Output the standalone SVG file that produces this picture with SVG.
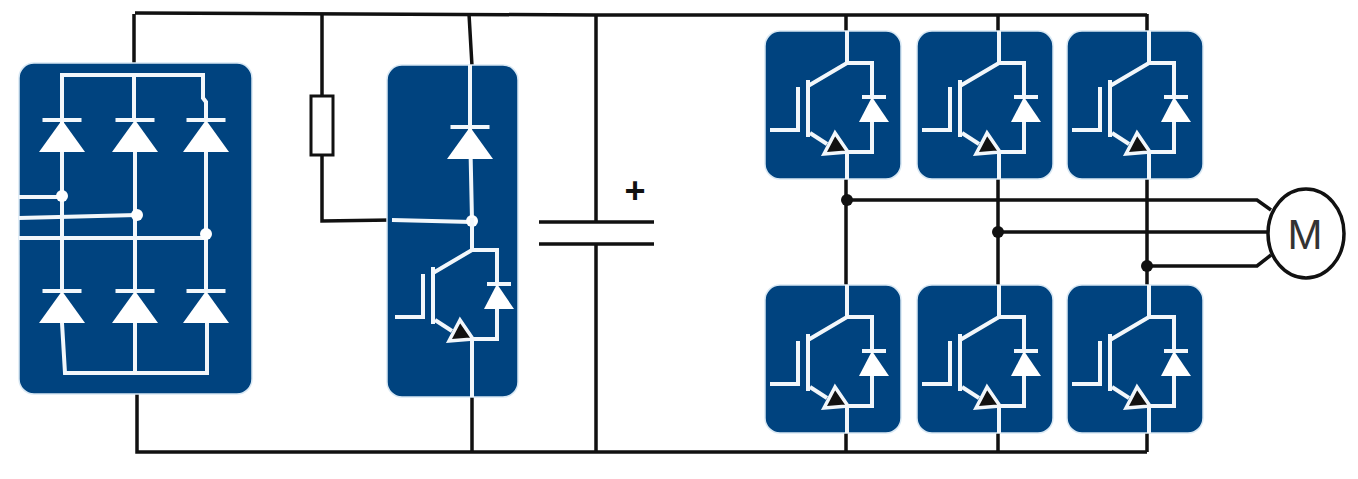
<svg xmlns="http://www.w3.org/2000/svg" xmlns:xlink="http://www.w3.org/1999/xlink" width="1358" height="479" viewBox="0 0 1358 479">
<style>
.mod{fill:#00437f;stroke:#d8e8f4;stroke-width:1.5}
.w{fill:none;stroke:#f2f7fb;stroke-width:4}
.wf{fill:#fff}
.k{fill:none;stroke:#111;stroke-width:3.5}
.kf{fill:#111}
.thin{fill:none;stroke:#111;stroke-width:3.5}
</style>
<defs>
<g id="diode">
<path class="w" d="M-19.500 0H19.500"/>
<path class="wf" d="M0 0L23 32H-23Z"/>
</g>
<g id="igbt">
<path class="w" d="M5 99H33V56"/>
<path class="w" d="M43 49V106"/>
<path class="w" d="M43 55L82 32H107V65"/>
<path class="w" d="M82 0V32"/>
<path class="w" d="M107 91V121H82V148"/>
<path class="w" d="M45 102L62 113"/>
<path class="w" d="M97 66H121"/>
<path class="wf" d="M107 66L124 91H94Z"/>
<path d="M70 102L59 123L83 121Z" fill="#111" stroke="#f2f7fb" stroke-width="3.500"/>
</g>
<g id="sw"><rect class="mod" x="0" y="0" width="136" height="148" rx="15"/><use href="#igbt" xlink:href="#igbt"/></g>
</defs>
<rect width="1358" height="479" fill="#fff"/>
<g id="connectors">
<path class="k" d="M135 13L596 15L1147 15"/>
<path class="k" d="M137 372V452H1147"/>
<path class="k" d="M134 14V76"/>
<path class="k" d="M322 14V96M322 155V221L392 220"/>
<path class="k" d="M469 14L472 66M472 396V452"/>
<path class="k" d="M596 14V222M596 244V452"/>
<path class="k" d="M539 222H654M539 244H654"/>
<path class="k" d="M846 14V32M846 178V286M846 432V452"/>
<path class="k" d="M998 14V32M998 178V286M998 432V452"/>
<path class="k" d="M1147 14V32M1147 178V286M1147 432V452"/>
<path class="thin" d="M847 200H1257L1271 210"/>
<path class="thin" d="M998 232H1267"/>
<path class="thin" d="M1147 266H1257L1271 255"/>
<circle class="kf" cx="847" cy="200" r="6"/>
<circle class="kf" cx="998" cy="232" r="6"/>
<circle class="kf" cx="1147" cy="266" r="6"/>
</g>
<g id="rectifier">
<rect class="mod" x="19" y="63" width="233" height="331" rx="15"/>
<path class="w" d="M62 152V75H203V98L206 102V120"/>
<path class="w" d="M134 75V120"/>
<path class="w" d="M62 152V291M135 152V291M206 152V291"/>
<path class="w" d="M62 323L65 373H207V323M135 323V373"/>
<path class="w" d="M19 197H62M19 218L137 215M19 238H206"/>
<circle class="wf" cx="62" cy="196" r="6"/>
<circle class="wf" cx="137" cy="215" r="6"/>
<circle class="wf" cx="206" cy="234" r="6"/>
<use href="#diode" xlink:href="#diode" x="62" y="120"/>
<use href="#diode" xlink:href="#diode" x="135" y="120"/>
<use href="#diode" xlink:href="#diode" x="206" y="120"/>
<use href="#diode" xlink:href="#diode" x="62" y="291"/>
<use href="#diode" xlink:href="#diode" x="135" y="291"/>
<use href="#diode" xlink:href="#diode" x="206" y="291"/>
</g>
<g id="resistor"><rect x="311" y="96" width="22" height="59" fill="#fff" stroke="#111" stroke-width="3"/></g>
<g id="brake">
<rect class="mod" x="387" y="65" width="131" height="332" rx="15"/>
<path class="w" d="M470 65V127L472 220V250M392 220L472 222"/>
<circle class="wf" cx="472" cy="221" r="6"/>
<use href="#diode" xlink:href="#diode" x="470" y="127"/>
<use href="#igbt" xlink:href="#igbt" x="390" y="218"/>
<path class="w" d="M472 366V397"/>
</g>
<g id="capacitor"><text x="635" y="203" font-family="'Liberation Sans',Arial,sans-serif" font-size="36" font-weight="700" text-anchor="middle" fill="#111">+</text></g>
<use id="t1" href="#sw" xlink:href="#sw" x="765" y="31"/>
<use id="t2" href="#sw" xlink:href="#sw" x="917" y="31"/>
<use id="t3" href="#sw" xlink:href="#sw" x="1067" y="31"/>
<use id="b1" href="#sw" xlink:href="#sw" x="765" y="285"/>
<use id="b2" href="#sw" xlink:href="#sw" x="917" y="285"/>
<use id="b3" href="#sw" xlink:href="#sw" x="1067" y="285"/>
<g id="motor">
<ellipse cx="1306" cy="233.500" rx="38" ry="44.500" fill="#fff" stroke="#111" stroke-width="3.500"/>
<text x="1305" y="249" font-family="'Liberation Sans',Arial,sans-serif" font-size="42" text-anchor="middle" fill="#333">M</text>
</g>
</svg>
